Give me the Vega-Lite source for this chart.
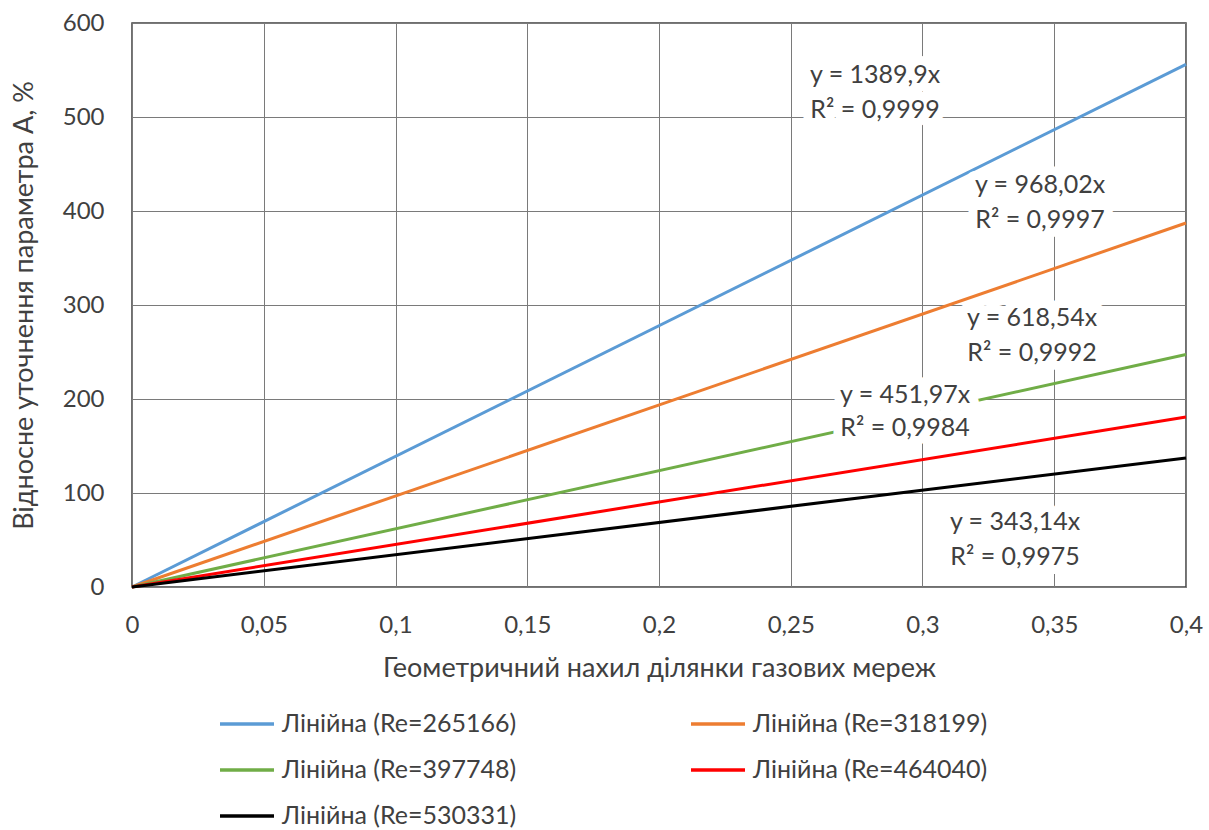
{
  "$schema": "https://vega.github.io/schema/vega-lite/v6.json",
  "width": 1054,
  "height": 564,
  "autosize": {"type": "none"},
  "padding": {"left": 132, "top": 23, "right": 23, "bottom": 243},
  "background": "white",
  "config": {
    "font": "Lato",
    "view": {"stroke": "#404040", "strokeWidth": 1.5},
    "axis": {"labelFont": "Lato", "titleFont": "Lato", "labelColor": "#404040", "titleColor": "#404040", "labelFontSize": 24, "titleFontSize": 27, "titleFontWeight": "normal", "gridColor": "#7a7a7a", "gridOpacity": 1, "gridWidth": 1, "domain": false, "ticks": false},
    "legend": {"labelFont": "Lato", "labelFontSize": 25, "labelColor": "#404040", "padding": 0}
  },
  "datasets": {
    "lines": [
      {"series": "Лінійна (Re=265166)", "x": 0, "y": 0},
      {"series": "Лінійна (Re=265166)", "x": 0.4, "y": 555.96},
      {"series": "Лінійна (Re=318199)", "x": 0, "y": 0},
      {"series": "Лінійна (Re=318199)", "x": 0.4, "y": 387.21},
      {"series": "Лінійна (Re=397748)", "x": 0, "y": 0},
      {"series": "Лінійна (Re=397748)", "x": 0.4, "y": 247.42},
      {"series": "Лінійна (Re=464040)", "x": 0, "y": 0},
      {"series": "Лінійна (Re=464040)", "x": 0.4, "y": 180.79},
      {"series": "Лінійна (Re=530331)", "x": 0, "y": 0},
      {"series": "Лінійна (Re=530331)", "x": 0.4, "y": 137.26}
    ],
    "labels": [
      {"x": 0.282, "y": 544.7, "text": "y = 1389,9x"},
      {"x": 0.282, "y": 507.4, "text": "R² = 0,9999"},
      {"x": 0.3446, "y": 427.7, "text": "y = 968,02x"},
      {"x": 0.3446, "y": 390.4, "text": "R² = 0,9997"},
      {"x": 0.3416, "y": 286.2, "text": "y = 618,54x"},
      {"x": 0.3416, "y": 248.9, "text": "R² = 0,9992"},
      {"x": 0.2934, "y": 204.3, "text": "y = 451,97x"},
      {"x": 0.2934, "y": 169.1, "text": "R² = 0,9984"},
      {"x": 0.3351, "y": 69.1, "text": "y = 343,14x"},
      {"x": 0.3351, "y": 31.9, "text": "R² = 0,9975"}
    ]
  },
  "layer": [
    {
      "data": {"name": "lines"},
      "mark": {"type": "line", "strokeWidth": 3},
      "encoding": {
        "x": {"field": "x", "type": "quantitative", "scale": {"domain": [0, 0.4], "nice": false}, "axis": {"values": [0, 0.05, 0.1, 0.15, 0.2, 0.25, 0.3, 0.35, 0.4], "labelExpr": "replace(format(datum.value, '~g'), '.', ',')", "labelPadding": 26, "title": "Геометричний нахил ділянки газових мереж", "titlePadding": 18, "labelFlush": false}},
        "y": {"field": "y", "type": "quantitative", "scale": {"domain": [0, 600], "nice": false}, "axis": {"values": [0, 100, 200, 300, 400, 500, 600], "labelPadding": 28, "title": "Відносне уточнення  параметра А, %", "titlePadding": 24}},
        "color": {"field": "series", "type": "nominal",
          "scale": {"domain": ["Лінійна (Re=265166)", "Лінійна (Re=397748)", "Лінійна (Re=530331)", "Лінійна (Re=318199)", "Лінійна (Re=464040)"], "range": ["#5B9BD5", "#70AD47", "#000000", "#ED7D31", "#FF0000"]},
          "legend": {"title": null, "orient": "none", "legendX": 86, "legendY": 672, "columns": 2, "columnPadding": 167, "rowPadding": 4, "symbolType": "stroke", "symbolSize": 2916, "symbolStrokeWidth": 3.5, "labelOffset": 6, "labelLimit": 500}
        }
      }
    },
    {
      "data": {"name": "labels"},
      "mark": {"type": "text", "fontSize": 25, "font": "Lato", "stroke": "white", "strokeWidth": 18, "strokeJoin": "round", "align": "center", "baseline": "middle"},
      "encoding": {
        "x": {"field": "x", "type": "quantitative"},
        "y": {"field": "y", "type": "quantitative"},
        "text": {"field": "text"}
      }
    },
    {
      "data": {"name": "labels"},
      "mark": {"type": "text", "fontSize": 25, "font": "Lato", "color": "#404040", "align": "center", "baseline": "middle"},
      "encoding": {
        "x": {"field": "x", "type": "quantitative"},
        "y": {"field": "y", "type": "quantitative"},
        "text": {"field": "text"}
      }
    }
  ]
}
